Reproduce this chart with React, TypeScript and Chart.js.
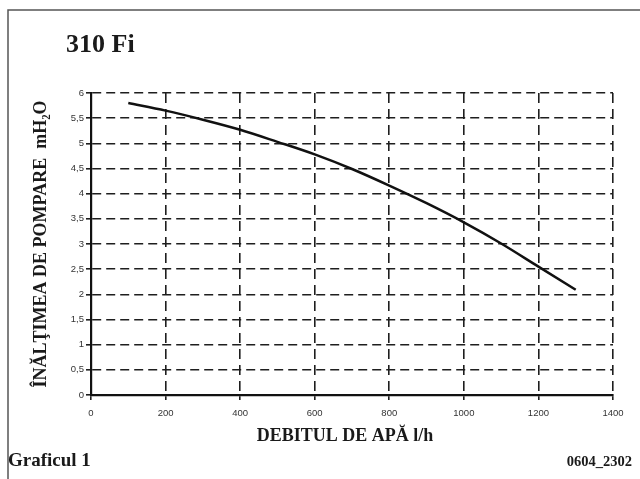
import React, { useEffect, useRef } from "react";
import { Chart, registerables } from "chart.js";

Chart.register(...registerables);

const flowLh = [100, 200, 300, 400, 500, 600, 700, 800, 900, 1000, 1100, 1200, 1300];
const headM = [5.8, 5.65, 5.47, 5.27, 5.03, 4.78, 4.49, 4.16, 3.81, 3.43, 3.01, 2.55, 2.09];
const xTicks = [0, 200, 400, 600, 800, 1000, 1200, 1400];
const yTicks = [0, 0.5, 1, 1.5, 2, 2.5, 3, 3.5, 4, 4.5, 5, 5.5, 6];

const chartTitle = "310 Fi";
const xTitle = "DEBITUL DE APĂ l/h";
const yTitle = "ÎNĂLŢIMEA DE POMPARE  mH₂O";
const footLeft = "Graficul 1";
const footRight = "0604_2302";

const SERIF = "'Liberation Serif', 'DejaVu Serif', serif";
const SANS = "'Liberation Sans', Arial, sans-serif";

const decorPlugin = {
  id: "decor",
  beforeDraw(chart: any) {
    const ctx = chart.ctx;
    ctx.save();
    ctx.fillStyle = "#ffffff";
    ctx.fillRect(0, 0, chart.width, chart.height);
    ctx.strokeStyle = "#555";
    ctx.lineWidth = 1.5;
    ctx.beginPath();
    ctx.moveTo(8, chart.height);
    ctx.lineTo(8, 10);
    ctx.lineTo(chart.width, 10);
    ctx.stroke();
    ctx.fillStyle = "#1a1a1a";
    ctx.textBaseline = "alphabetic";
    ctx.textAlign = "left";
    ctx.font = `bold 26px ${SERIF}`;
    ctx.fillText(chartTitle, 66, 52);
    ctx.font = `bold 19px ${SERIF}`;
    ctx.fillText(footLeft, 8, 466);
    ctx.textAlign = "right";
    ctx.font = `bold 14.5px ${SERIF}`;
    ctx.fillText(footRight, 632, 466);
    ctx.textAlign = "center";
    ctx.textBaseline = "middle";
    ctx.font = `bold 18px ${SERIF}`;
    ctx.fillText(xTitle, 345, 436);
    ctx.restore();
  },
};

export default function App() {
  const ref = useRef<HTMLCanvasElement>(null);
  useEffect(() => {
    if (!ref.current) return;
    const chart = new Chart(ref.current, {
      type: "line",
      data: {
        datasets: [
          {
            data: flowLh.map((x, i) => ({ x, y: headM[i] })),
            borderColor: "#111",
            borderWidth: 2.5,
            pointRadius: 0,
            tension: 0.4,
            cubicInterpolationMode: "monotone",
            fill: false,
          },
        ],
      },
      options: {
        animation: false,
        responsive: false,
        events: [],
        layout: { padding: { left: 0, right: 27, top: 93, bottom: 0 } },
        plugins: { legend: { display: false }, tooltip: { enabled: false }, title: { display: false } },
        scales: {
          x: {
            type: "linear",
            min: 0,
            max: 1400,
            afterFit: (s: any) => {
              s.height = 84;
            },
            afterBuildTicks: (s: any) => {
              s.ticks = xTicks.map((v) => ({ value: v }));
            },
            ticks: {
              color: "#333",
              font: { family: SANS, size: 9.5 },
              padding: 8,
              maxRotation: 0,
              callback: (v: any) => String(v),
            },
            grid: {
              color: "#1e1e1e",
              lineWidth: 1.6,
              tickLength: 5,
              tickColor: "#1e1e1e",
              tickWidth: 1.6,
            },
            border: { display: true, color: "#111", width: 2.2, dash: [10, 6] },
            title: { display: false },
          },
          y: {
            type: "linear",
            min: 0,
            max: 6,
            afterFit: (s: any) => {
              s.width = 91;
            },
            afterBuildTicks: (s: any) => {
              s.ticks = yTicks.map((v) => ({ value: v }));
            },
            ticks: {
              color: "#333",
              font: { family: SANS, size: 9.5 },
              padding: 2,
              callback: (v: any) => String(v).replace(".", ","),
            },
            grid: {
              color: "#1e1e1e",
              lineWidth: 1.6,
              tickLength: 5,
              tickColor: "#1e1e1e",
              tickWidth: 1.6,
            },
            border: { display: true, color: "#111", width: 2.2, dash: [9, 5] },
            title: {
              display: true,
              text: yTitle,
              color: "#1a1a1a",
              font: { family: SERIF, size: 18, weight: "bold" },
              padding: { top: 31, bottom: 0 },
            },
          },
        },
      },
      plugins: [decorPlugin],
    } as any);
    return () => chart.destroy();
  }, []);
  return (
    <div style={{ position: "fixed", left: 0, top: 0, width: 640, height: 479, background: "#fff" }}>
      <canvas ref={ref} width={640} height={479} style={{ display: "block" }} />
    </div>
  );
}
